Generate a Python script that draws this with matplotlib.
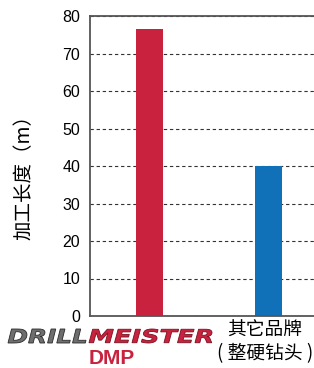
import matplotlib
matplotlib.use('Agg')
import matplotlib.pyplot as plt
from matplotlib.textpath import TextPath
from matplotlib.patches import PathPatch
from matplotlib.font_manager import FontProperties
from matplotlib.transforms import Affine2D

plt.rcParams['font.family'] = ['Noto Sans CJK SC', 'DejaVu Sans']

# data
categories = ['DRILLMEISTER DMP', '其它品牌\n( 整硬钻头 )']
values = [76.5, 40]
bar_colors = ['#c8223f', '#1070b8']
yticks = [0, 10, 20, 30, 40, 50, 60, 70, 80]
ylabel = '加工长度（m）'

W, H = 314, 368
fig = plt.figure(figsize=(W / 100, H / 100), dpi=100)
ax = fig.add_axes([90 / W, 52 / H, 224 / W, 300 / H])

ax.set_axisbelow(True)
ax.bar(range(len(values)), values, width=0.227, color=bar_colors, zorder=2)

ax.set_xlim(-0.5, 1.38)
ax.set_ylim(0, 80)
ax.set_yticks(yticks)
ax.set_yticklabels([str(t) for t in yticks], fontfamily='Liberation Sans', fontsize=11.5)
ax.yaxis.grid(True, linestyle=(0, (3, 2.5)), color='#333333', linewidth=0.8)

# x tick labels: first one is a logo, drawn below
ax.set_xticks(range(len(categories)))
ax.set_xticklabels(['', categories[1]], fontsize=13.5, linespacing=1.1)
ax.tick_params(axis='both', length=0)
ax.tick_params(axis='y', pad=7)
ax.tick_params(axis='x', pad=3)
lbl = ax.get_xticklabels()[1]
lbl.set_transform(lbl.get_transform() + Affine2D().translate(-4, 0))

for side in ['left', 'top', 'bottom']:
    ax.spines[side].set_color('#555555')
    ax.spines[side].set_linewidth(1.3)
ax.spines['right'].set_visible(False)

ax.set_ylabel(ylabel, fontsize=14)
ax.yaxis.set_label_coords(-0.245, 0.48)

# logo "DRILLMEISTER" stretched to fit, in pixel coords
px = Affine2D().scale(1 / W, 1 / H) + fig.transFigure
fp = FontProperties(family='DejaVu Sans', weight='bold', style='italic')

def logo_word(word, x0, x1, y0, h, face, edge):
    tp = TextPath((0, 0), word, size=1, prop=fp)
    ext = tp.get_extents()
    tr = Affine2D().translate(-ext.x0, -ext.y0).scale((x1 - x0) / ext.width, h / ext.height).translate(x0, y0)
    patch = PathPatch(tr.transform_path(tp), facecolor=face, edgecolor=edge,
                      linewidth=0.6, transform=px)
    fig.add_artist(patch)

logo_word('DRILL', 8, 86, 25, 14, '#6e6e6e', '#2a2a2a')
logo_word('MEISTER', 89, 212, 25, 14, '#c8223f', '#7a1020')

fig.text(112 / W, 4 / H, 'DMP', color='#c8223f', fontfamily='Liberation Sans',
         fontweight='bold', fontsize=15, ha='center', va='baseline')

fig.savefig('out.png', dpi=100)
